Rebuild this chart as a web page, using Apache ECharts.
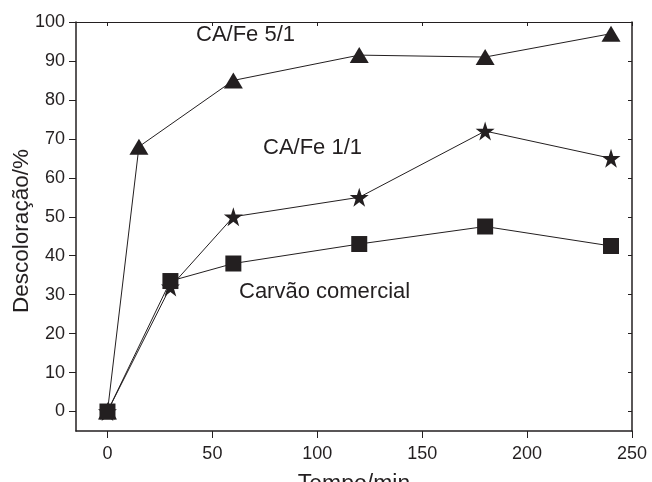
<!DOCTYPE html>
<html>
<head>
<meta charset="utf-8">
<script src="https://cdn.jsdelivr.net/npm/echarts@6/dist/echarts.min.js"></script>
<style>
html,body{margin:0;padding:0;background:#fff;}
#main{width:652px;height:482px;}
</style>
</head>
<body>
<div id="main"></div>
<script>
// dados
var tempoFe51 = [0, 15, 60, 120, 180, 240];
var valFe51 = [0, 68, 85, 91.5, 91, 97];
var tempoFe11 = [0, 30, 60, 120, 180, 240];
var valFe11 = [0, 32, 50, 55, 72, 65];
var tempoCom = [0, 30, 60, 120, 180, 240];
var valCom = [0, 33.5, 38, 43, 47.5, 42.5];
var ticksX = [0, 50, 100, 150, 200, 250];
var ticksY = [0, 10, 20, 30, 40, 50, 60, 70, 80, 90, 100];

var star = 'path://M50,0 L61.8,36.2 L100,36.2 L69.1,58.6 L80.9,95 L50,72.6 L19.1,95 L30.9,58.6 L0,36.2 L38.2,36.2 Z';

function pares(xs, ys) {
	var out = [];
	for (var i = 0; i < xs.length; i++) out.push([xs[i], ys[i]]);
	return out;
}

var myChart = echarts.init(document.getElementById('main'));
var fonte = 'Liberation Sans, Arial, sans-serif';
var cor = '#231f20';
option = {
	backgroundColor: '#fff',
	animation: false,
	grid: {
		left: 76,
		right: 20,
		top: 22,
		bottom: 51,
		containLabel: false,
		outerBoundsMode: 'none'
	},
	xAxis: [{
		type: 'value',
		min: -15,
		max: 250,
		name: 'Tempo/min',
		nameLocation: 'middle',
		nameGap: 42,
		nameMoveOverlap: false,
		nameTextStyle: {color: cor, fontSize: 23, fontFamily: fonte},
		axisLine: {onZero: false, lineStyle: {color: cor, width: 1.5}},
		axisTick: {show: true, length: 7, lineStyle: {color: cor}, customValues: ticksX},
		axisLabel: {color: cor, fontSize: 18, fontFamily: fonte, margin: 14, customValues: ticksX},
		splitLine: {show: false}
	}, {
		type: 'value',
		position: 'top',
		min: -15,
		max: 250,
		axisLine: {onZero: false, lineStyle: {color: cor, width: 1}},
		axisTick: {show: true, inside: true, length: 4, lineStyle: {color: cor}, customValues: ticksX},
		axisLabel: {show: false},
		splitLine: {show: false}
	}],
	yAxis: [{
		type: 'value',
		min: -5,
		max: 100,
		name: 'Descoloração/%',
		nameLocation: 'middle',
		nameGap: 43,
		nameMoveOverlap: false,
		nameTextStyle: {color: cor, fontSize: 22.5, fontFamily: fonte, padding: [0, 9, 0, 0]},
		axisLine: {onZero: false, lineStyle: {color: cor, width: 1.5}},
		axisTick: {show: true, length: 7, lineStyle: {color: cor}, customValues: ticksY},
		axisLabel: {color: cor, fontSize: 18, fontFamily: fonte, margin: 11, customValues: ticksY},
		splitLine: {show: false}
	}, {
		type: 'value',
		position: 'right',
		min: -5,
		max: 100,
		axisLine: {onZero: false, lineStyle: {color: cor, width: 1.5}},
		axisTick: {show: true, inside: true, length: 4, lineStyle: {color: cor}, customValues: ticksY},
		axisLabel: {show: false},
		splitLine: {show: false}
	}],
	series: [{
		name: 'CA/Fe 5/1',
		type: 'line',
		data: pares(tempoFe51, valFe51),
		symbol: 'triangle',
		symbolSize: [19, 16],
		itemStyle: {color: cor},
		lineStyle: {color: cor, width: 1}
	}, {
		name: 'CA/Fe 1/1',
		type: 'line',
		data: pares(tempoFe11, valFe11),
		symbol: star,
		symbolSize: 19,
		itemStyle: {color: cor},
		lineStyle: {color: cor, width: 1}
	}, {
		name: 'Carvão comercial',
		type: 'line',
		data: pares(tempoCom, valCom),
		symbol: 'rect',
		symbolSize: 16,
		itemStyle: {color: cor},
		lineStyle: {color: cor, width: 1}
	}],
	graphic: [{
		type: 'text', left: 196, top: 24,
		style: {text: 'CA/Fe 5/1', fill: cor, fontSize: 22, fontFamily: fonte}
	}, {
		type: 'text', left: 263, top: 137,
		style: {text: 'CA/Fe 1/1', fill: cor, fontSize: 22, fontFamily: fonte}
	}, {
		type: 'text', left: 239, top: 281,
		style: {text: 'Carvão comercial', fill: cor, fontSize: 22, fontFamily: fonte}
	}]
};
myChart.setOption(option);
</script>
</body>
</html>
